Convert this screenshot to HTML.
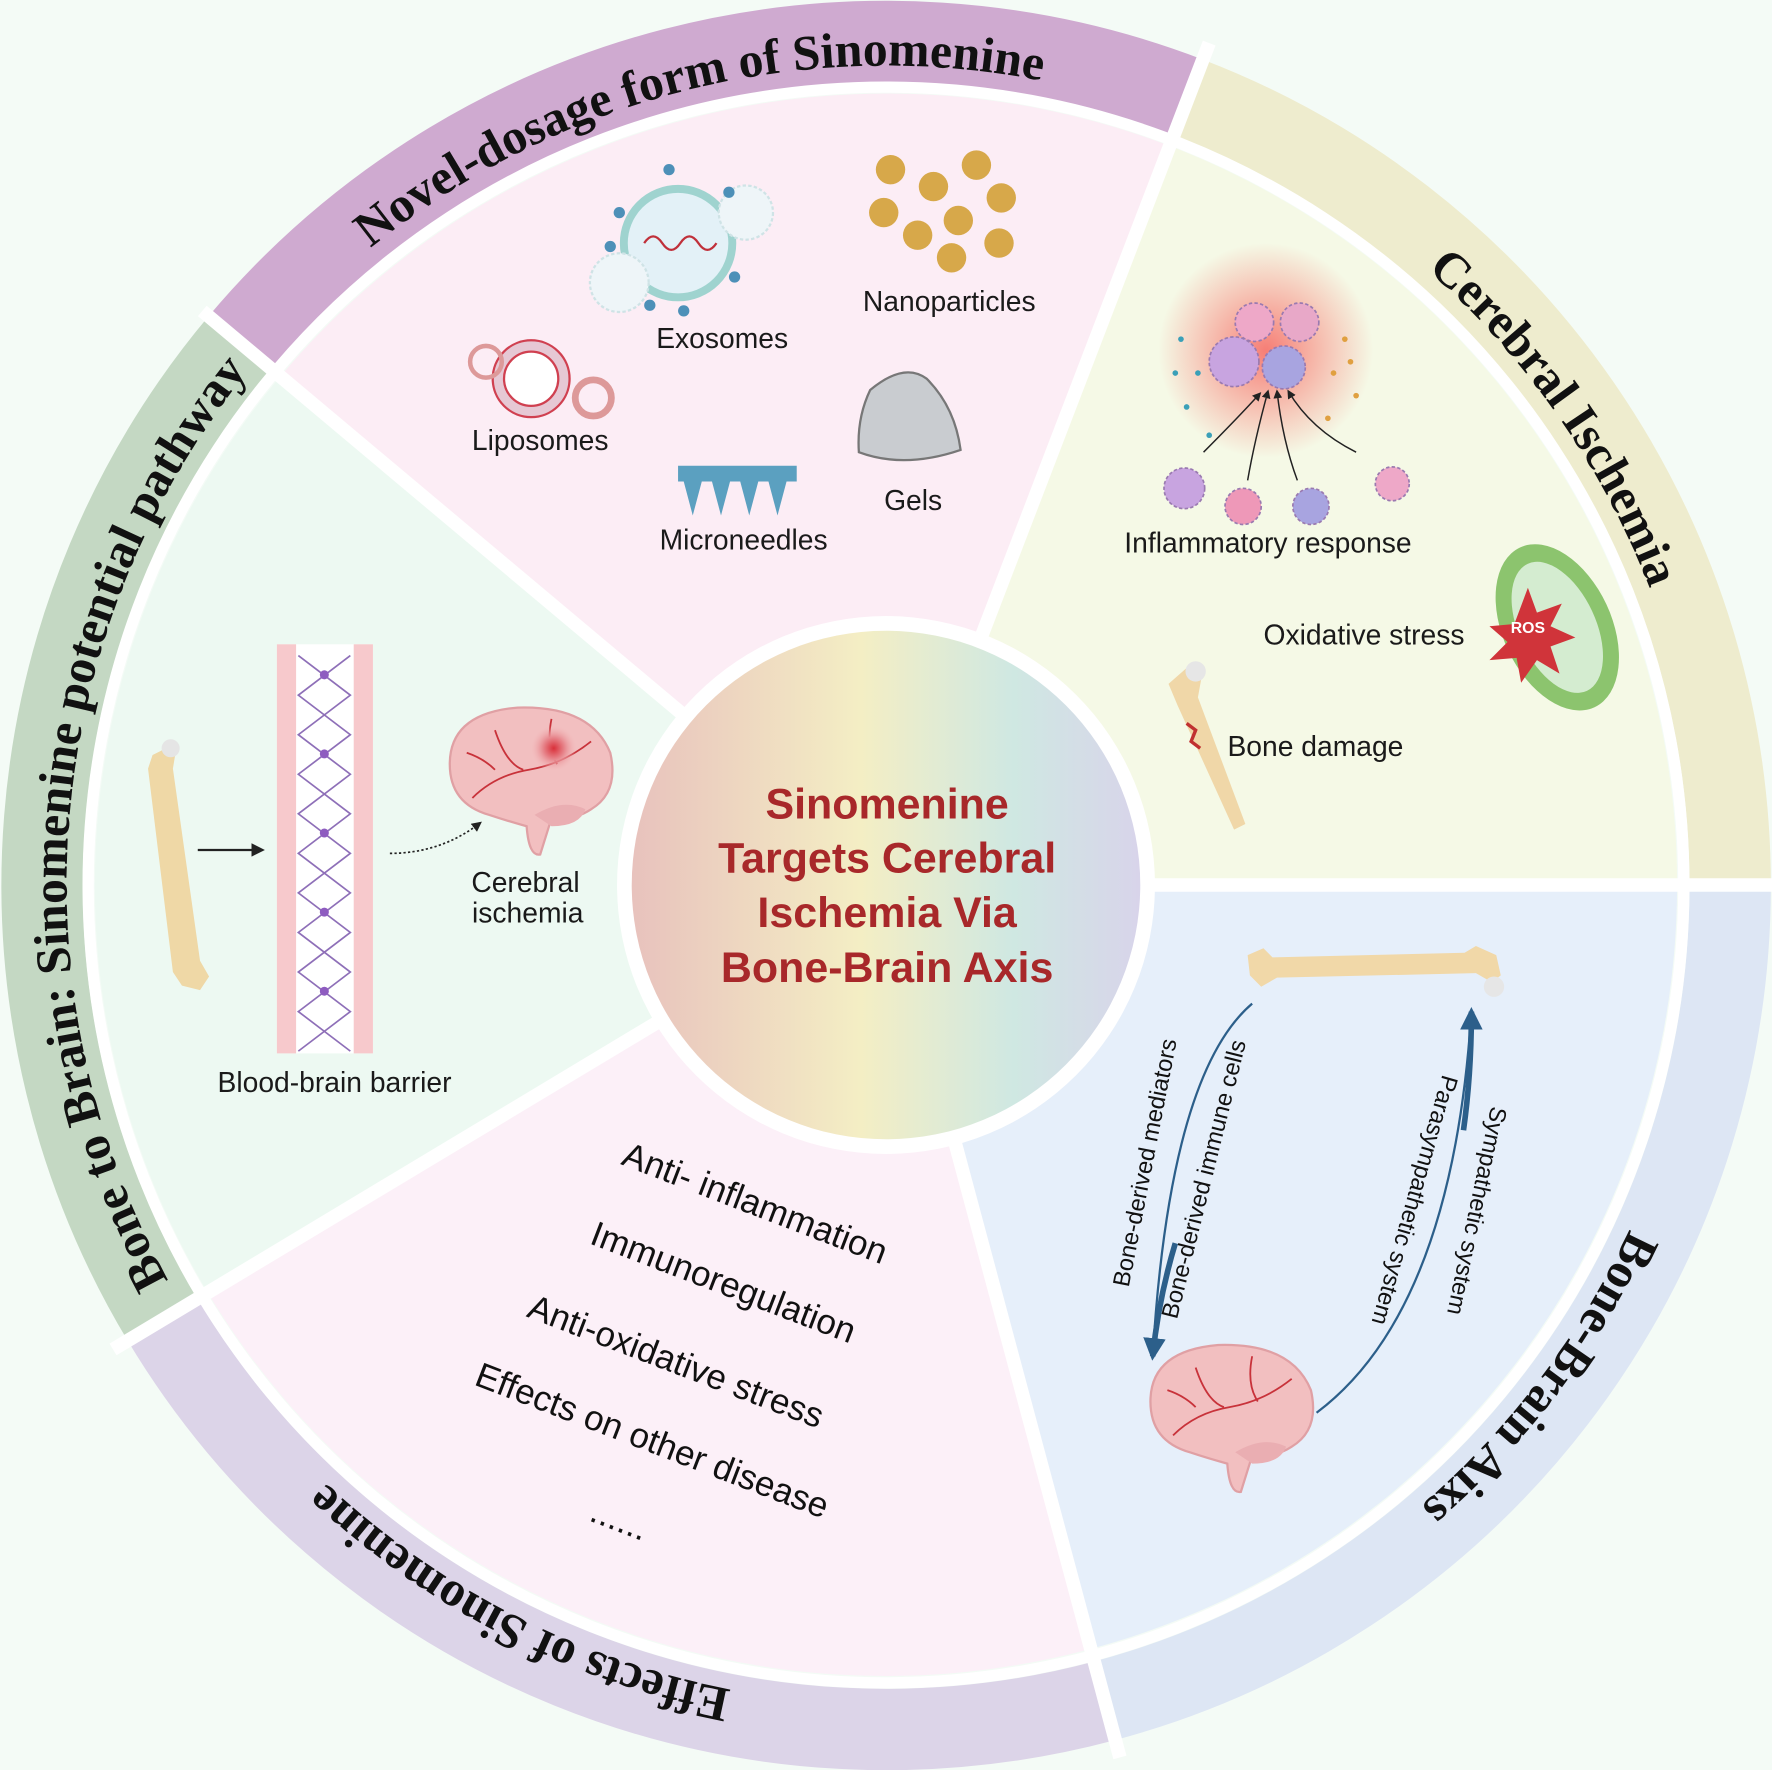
<!DOCTYPE html>
<html><head><meta charset="utf-8"><style>
html,body{margin:0;padding:0;background:#f4fbf6;}
svg{display:block}
.lb{font-family:"Liberation Sans",sans-serif;font-size:25px;fill:#1a1a1a;text-anchor:middle}
.ring{font-family:"Liberation Serif",serif;font-weight:bold;font-size:44px;fill:#111;text-anchor:middle}
.eff{font-family:"Liberation Sans",sans-serif;font-size:31px;fill:#111;text-anchor:middle}
.ax{font-family:"Liberation Sans",sans-serif;font-size:21px;fill:#111;text-anchor:middle}
</style></head><body>
<svg width="1772" height="1770" viewBox="0 0 1568 1566" xmlns="http://www.w3.org/2000/svg">
<defs>
<linearGradient id="cg" x1="0" x2="1" y1="0" y2="0">
<stop offset="0" stop-color="#e8c2bd"/><stop offset="0.45" stop-color="#f4eec4"/><stop offset="0.75" stop-color="#cfe8e2"/><stop offset="1" stop-color="#d8d4ea"/></linearGradient>
<radialGradient id="glow"><stop offset="0" stop-color="#f7605a" stop-opacity="0.8"/><stop offset="1" stop-color="#f7605a" stop-opacity="0"/></radialGradient>
<radialGradient id="brg"><stop offset="0" stop-color="#d9303a"/><stop offset="0.5" stop-color="#e88a90"/><stop offset="1" stop-color="#f1b4b6" stop-opacity="0"/></radialGradient>
<path id="tp" d="M784 1508 A725 725 0 1 1 784 58 A725 725 0 1 1 784 1508"/>
<marker id="ah" viewBox="0 0 10 10" refX="8" refY="5" markerWidth="6" markerHeight="6" orient="auto"><path d="M0 0L10 5L0 10z" fill="#222"/></marker>
<marker id="bh" viewBox="0 0 10 10" refX="8" refY="5" markerWidth="4" markerHeight="4" orient="auto"><path d="M0 0L10 5L0 10z" fill="#2c5f8a"/></marker>
<g id="brain">
<path d="M-70 -10 Q-70 -55 -10 -60 Q55 -62 72 -20 Q80 15 55 30 Q40 40 20 38 L10 70 Q0 72 -2 45 Q-20 40 -35 35 Q-70 25 -70 -10Z" fill="#f2bfc0" stroke="#e0a0a4" stroke-width="2"/>
<path d="M5 35 Q30 20 50 30 Q45 45 20 45Z" fill="#eaaeb2"/>
<path d="M-50 20 Q-30 0 0 -5 Q30 -10 55 -30 M-30 -40 Q-20 -10 -5 -5 M20 -50 Q15 -25 25 -10 M-55 -20 Q-40 -15 -30 -5" fill="none" stroke="#c8323a" stroke-width="1.6"/>
</g>
</defs>
<rect width="1568" height="1566" fill="#f4fbf6"/>
<g fill="none" stroke-width="72">
<path d="M212 303 A747 747 0 0 1 1051 86" stroke="#cfaad0"/>
<path d="M1051 86 A747 747 0 0 1 1531 783" stroke="#eeecce"/>
<path d="M1531 783 A747 747 0 0 1 977 1505" stroke="#dde6f4"/>
<path d="M977 1505 A747 747 0 0 1 144 1168" stroke="#dcd4e8"/>
<path d="M144 1168 A747 747 0 0 1 212 303" stroke="#c4d8c3"/>
</g>
<path d="M784 783 L248 333 A700 700 0 0 1 1035 129Z" fill="#fcedf5"/>
<path d="M784 783 L1035 129 A700 700 0 0 1 1484 783Z" fill="#f5f9e6"/>
<path d="M784 783 L1484 783 A700 700 0 0 1 965 1459Z" fill="#e6effa"/>
<path d="M784 783 L965 1459 A700 700 0 0 1 184 1144Z" fill="#fcf0f8"/>
<path d="M784 783 L184 1144 A700 700 0 0 1 248 333Z" fill="#edf9f2"/>
<circle cx="784" cy="783" r="706" fill="none" stroke="#fff" stroke-width="10"/>
<g stroke="#fff" stroke-width="12">
<line x1="784" y1="783" x2="179" y2="275"/>
<line x1="784" y1="783" x2="1070" y2="38"/>
<line x1="784" y1="783" x2="1580" y2="783"/>
<line x1="784" y1="783" x2="991" y2="1555"/>
<line x1="784" y1="783" x2="100" y2="1194"/>
</g>
<text class="ring"><textPath href="#tp" startOffset="2100">Novel-dosage form of Sinomenine</textPath></text>
<text class="ring"><textPath href="#tp" startOffset="2974">Cerebral Ischemia</textPath></text>
<text class="ring"><textPath href="#tp" startOffset="3885">Bone-Brain Aixs</textPath></text>
<text class="ring"><textPath href="#tp" startOffset="342">Effects of Sinomenine</textPath></text>
<text class="ring"><textPath href="#tp" startOffset="1202">Bone to Brain: Sinomenine potential pathway</textPath></text>
<circle cx="784" cy="783" r="238" fill="#fff"/>
<circle cx="784" cy="783" r="225" fill="url(#cg)"/>
<g font-family="Liberation Sans,sans-serif" font-weight="bold" font-size="38" fill="#a8282a" text-anchor="middle">
<text x="785" y="724">Sinomenine</text>
<text x="785" y="772">Targets Cerebral</text>
<text x="785" y="820">Ischemia Via</text>
<text x="785" y="869">Bone-Brain Axis</text>
</g>
<!-- Novel dosage -->
<circle cx="600" cy="215" r="48" fill="#e3f1f7" stroke="#9fd3cf" stroke-width="7"/>
<path d="M570 215 q8 -12 16 0 t16 0 t16 0 t16 0" fill="none" stroke="#c0303a" stroke-width="2"/>
<circle cx="548" cy="250" r="26" fill="#eef5f8" stroke="#cfe3e6" stroke-width="2" stroke-dasharray="3 2"/>
<circle cx="660" cy="188" r="24" fill="#eef5f8" stroke="#cfe3e6" stroke-width="2" stroke-dasharray="3 2"/>
<g fill="#4d90b8"><circle cx="592" cy="150" r="5"/><circle cx="645" cy="170" r="5"/><circle cx="548" cy="188" r="5"/><circle cx="575" cy="270" r="5"/><circle cx="605" cy="275" r="5"/><circle cx="650" cy="245" r="5"/><circle cx="540" cy="218" r="5"/></g>
<g fill="#d7a84a"><circle cx="788" cy="150" r="13"/><circle cx="864" cy="146" r="13"/><circle cx="826" cy="165" r="13"/><circle cx="782" cy="188" r="13"/><circle cx="848" cy="195" r="13"/><circle cx="886" cy="175" r="13"/><circle cx="812" cy="208" r="13"/><circle cx="842" cy="228" r="13"/><circle cx="884" cy="215" r="13"/></g>
<circle cx="470" cy="335" r="29" fill="#fff" stroke="#e6c8d4" stroke-width="10"/>
<circle cx="470" cy="335" r="24" fill="none" stroke="#d04050" stroke-width="2"/>
<circle cx="470" cy="335" r="34" fill="none" stroke="#d04050" stroke-width="2"/>
<circle cx="430" cy="320" r="14" fill="none" stroke="#d99" stroke-width="4"/>
<circle cx="525" cy="352" r="16" fill="none" stroke="#d99" stroke-width="6"/>
<path d="M770 345 Q800 320 820 335 Q845 360 850 398 Q800 415 760 400 Q758 370 770 345Z" fill="#c9ccd0" stroke="#777" stroke-width="2"/>
<path d="M600 412 h105 v14 h-105z" fill="#5ba0c0"/>
<g fill="#5ba0c0"><path d="M605 426 l8 30 l8 -30z"/><path d="M630 426 l8 30 l8 -30z"/><path d="M655 426 l8 30 l8 -30z"/><path d="M680 426 l8 30 l8 -30z"/></g>
<text class="lb" x="639" y="308">Exosomes</text>
<text class="lb" x="840" y="275">Nanoparticles</text>
<text class="lb" x="478" y="398">Liposomes</text>
<text class="lb" x="808" y="451">Gels</text>
<text class="lb" x="658" y="486">Microneedles</text>
<!-- Cerebral ischemia -->
<circle cx="1120" cy="310" r="95" fill="url(#glow)"/>
<g stroke="#9a7ab0" stroke-dasharray="3 2" stroke-width="1.5">
<circle cx="1110" cy="285" r="17" fill="#eea8c8"/><circle cx="1150" cy="285" r="17" fill="#e8a8c8"/>
<circle cx="1092" cy="320" r="22" fill="#c8a4e0"/><circle cx="1136" cy="325" r="19" fill="#a8a4e0"/>
<circle cx="1048" cy="432" r="18" fill="#c8a4e0"/><circle cx="1100" cy="448" r="16" fill="#ee98b8"/><circle cx="1160" cy="448" r="16" fill="#a8a4e0"/><circle cx="1232" cy="428" r="15" fill="#eea8c8"/></g>
<g fill="#3aa0b8"><circle cx="1045" cy="300" r="2.5"/><circle cx="1060" cy="330" r="2.5"/><circle cx="1050" cy="360" r="2.5"/><circle cx="1070" cy="385" r="2.5"/><circle cx="1040" cy="330" r="2.5"/></g>
<g fill="#e0a040"><circle cx="1190" cy="300" r="2.5"/><circle cx="1180" cy="330" r="2.5"/><circle cx="1200" cy="350" r="2.5"/><circle cx="1175" cy="370" r="2.5"/><circle cx="1195" cy="320" r="2.5"/></g>
<g fill="none" stroke="#222" stroke-width="1.3" marker-end="url(#ah)">
<path d="M1065 400 Q1095 370 1115 348"/><path d="M1104 425 Q1110 390 1122 346"/><path d="M1148 425 Q1135 390 1130 346"/><path d="M1200 400 Q1160 380 1140 346"/></g>
<text class="lb" x="1122" y="489">Inflammatory response</text>
<ellipse cx="1378" cy="555" rx="48" ry="78" transform="rotate(-25 1378 555)" fill="#8cc46e"/>
<ellipse cx="1378" cy="555" rx="34" ry="62" transform="rotate(-25 1378 555)" fill="#d4ecd0"/>
<path d="M1352 520 l8 22 l22 -8 l-10 20 l22 10 l-22 8 l8 24 l-20 -12 l-14 20 l-4 -22 l-24 2 l16 -16 l-16 -14 l22 -2z" fill="#d0343a"/>
<text x="1352" y="560" font-family="Liberation Sans,sans-serif" font-size="14" font-weight="bold" fill="#fff" text-anchor="middle">ROS</text>
<text class="lb" x="1207" y="570">Oxidative stress</text>
<path d="M1034 605 l16 -14 l14 4 l-4 22 l42 112 l-10 5 l-50 -110z" fill="#f0d7a8"/>
<circle cx="1058" cy="594" r="9" fill="#e6e6e6"/>
<path d="M1050 640 l8 6 l-4 10 l8 6" stroke="#c03030" stroke-width="3" fill="none"/>
<text class="lb" x="1164" y="669">Bone damage</text>
<!-- Bone to brain panel -->
<path d="M135 668 l12 -6 l8 6 l-2 12 l24 170 l8 14 l-8 12 l-16 -4 l-8 -12 l-22 -180z" fill="#efd8a6"/>
<circle cx="151" cy="662" r="8" fill="#e5e5e5"/>
<line x1="175" y1="752" x2="232" y2="752" stroke="#222" stroke-width="2" marker-end="url(#ah)"/>
<rect x="245" y="570" width="85" height="362" fill="#fff"/>
<rect x="245" y="570" width="17" height="362" fill="#f7c9cc"/><rect x="313" y="570" width="17" height="362" fill="#f7c9cc"/>
<path d="M264 580 l46 35 l-46 35 l46 35 l-46 35 l46 35 l-46 35 l46 35 l-46 35 l46 35 l-46 35" fill="none" stroke="#8e6fb8" stroke-width="1.5"/>
<path d="M310 580 l-46 35 l46 35 l-46 35 l46 35 l-46 35 l46 35 l-46 35 l46 35 l-46 35 l46 35" fill="none" stroke="#8e6fb8" stroke-width="1.5"/>
<g fill="#8e5cc0"><circle cx="287" cy="597" r="4"/><circle cx="287" cy="667" r="4"/><circle cx="287" cy="737" r="4"/><circle cx="287" cy="807" r="4"/><circle cx="287" cy="877" r="4"/></g>
<path d="M345 755 Q390 755 425 728" fill="none" stroke="#222" stroke-width="1.5" stroke-dasharray="2 2" marker-end="url(#ah)"/>
<use href="#brain" transform="translate(468 686)"/>
<circle cx="490" cy="662" r="20" fill="url(#brg)"/>
<text class="lb" x="465" y="789">Cerebral</text>
<text class="lb" x="467" y="816">ischemia</text>
<text class="lb" x="296" y="966">Blood-brain barrier</text>
<!-- Effects -->
<text class="eff" x="668" y="1075" transform="rotate(21 668 1065)">Anti- inflammation</text>
<text class="eff" x="640" y="1145" transform="rotate(21 640 1135)">Immunoregulation</text>
<text class="eff" x="598" y="1215" transform="rotate(21 598 1205)">Anti-oxidative stress</text>
<text class="eff" x="577" y="1285" transform="rotate(21 577 1275)">Effects on other disease</text>
<text class="eff" x="548" y="1355" transform="rotate(21 548 1345)">......</text>
<!-- Bone-brain axis -->
<path d="M1104 845 l14 -6 l8 8 l170 -4 l10 -6 l18 8 l4 18 l-8 6 l-14 -8 l-176 4 l-14 8 l-10 -10z" fill="#f1d8a8"/>
<circle cx="1322" cy="873" r="9" fill="#e6e6e6"/>
<path d="M1108 888 Q1035 950 1020 1200" fill="none" stroke="#2c5f8a" stroke-width="2"/>
<path d="M1040 1100 Q1025 1150 1020 1200" fill="none" stroke="#2c5f8a" stroke-width="5" marker-end="url(#bh)"/>
<path d="M1165 1250 Q1285 1160 1302 895" fill="none" stroke="#2c5f8a" stroke-width="2"/>
<path d="M1295 1000 Q1302 950 1302 895" fill="none" stroke="#2c5f8a" stroke-width="5" marker-end="url(#bh)"/>
<text class="ax" transform="translate(1020 1030) rotate(-79)">Bone-derived mediators</text>
<text class="ax" transform="translate(1072 1045) rotate(-76)">Bone-derived immune cells</text>
<text class="ax" transform="translate(1300 1070) rotate(102)">Sympathetic system</text>
<text class="ax" transform="translate(1245 1060) rotate(106)">Parasympathetic system</text>
<use href="#brain" transform="translate(1088 1250)"/>
</svg>
</body></html>
